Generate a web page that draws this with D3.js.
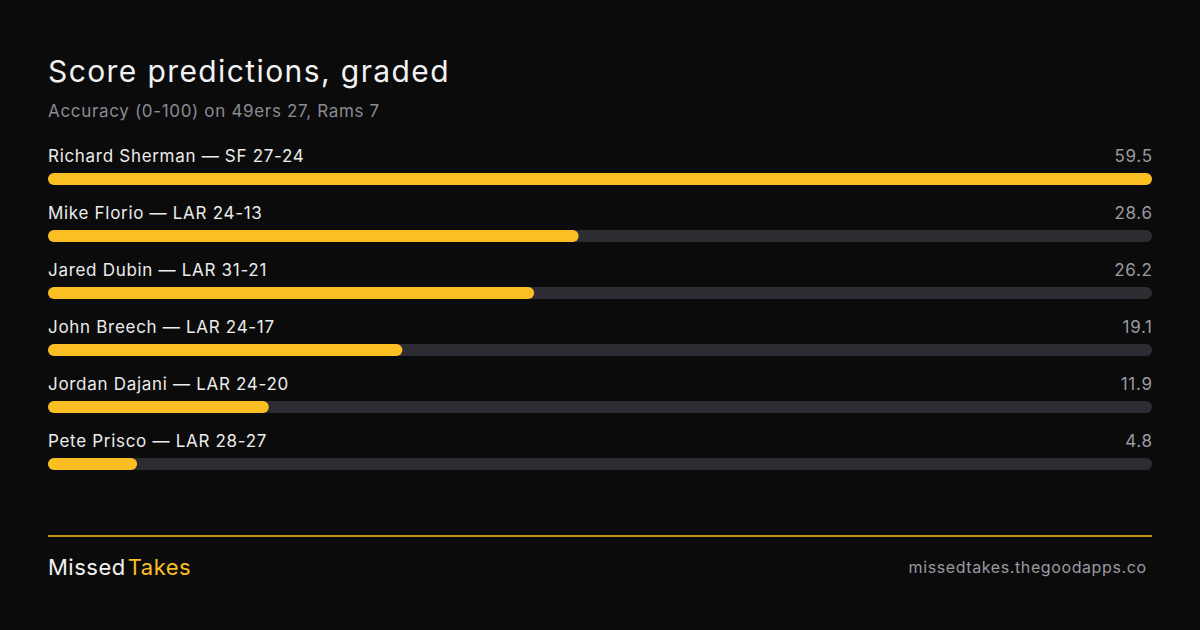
<!DOCTYPE html>
<html><head><meta charset="utf-8">
<script src="https://cdn.jsdelivr.net/npm/d3@7"></script>
<style>html,body{margin:0;padding:0;background:#0b0b0b;}svg{display:block;}</style>
</head><body>
<svg id="c" width="1200" height="630"></svg>
<script>
const names = ["Richard Sherman", "Mike Florio", "Jared Dubin", "John Breech", "Jordan Dajani", "Pete Prisco"];
const picks = ["SF 27-24", "LAR 24-13", "LAR 31-21", "LAR 24-17", "LAR 24-20", "LAR 28-27"];
const scores = [59.5, 28.6, 26.2, 19.1, 11.9, 4.8];
const scoreLabels = ["59.5", "28.6", "26.2", "19.1", "11.9", "4.8"];

const W = 1200, H = 630, L = 48, R = 1152;
const font = "Inter, 'Noto Sans', sans-serif";
const svg = d3.select("#c");
svg.append("rect").attr("width", W).attr("height", H).attr("fill", "#0b0b0b");

svg.append("text").attr("x", L).attr("y", 82).attr("font-family", font).attr("font-size", 30)
  .attr("letter-spacing", 1.4).attr("fill", "#f2f2f2").text("Score predictions, graded");
svg.append("text").attr("x", L).attr("y", 117).attr("font-family", font).attr("font-size", 17)
  .attr("letter-spacing", 0.67).attr("fill", "#8a8a92").text("Accuracy (0-100) on 49ers 27, Rams 7");

const x = d3.scaleLinear().domain([0, d3.max(scores)]).range([L, R]);
const y = d3.scaleBand().domain(d3.range(names.length)).range([145, 145 + 57 * names.length]);
const barH = 12;

const rows = svg.selectAll("g.row").data(names).join("g").attr("class", "row")
  .attr("transform", (d, i) => `translate(0,${y(i)})`);
rows.append("text").attr("x", L).attr("y", 17).attr("font-family", font).attr("font-size", 17)
  .attr("letter-spacing", 0.7).attr("fill", "#ececec").text((d, i) => `${d} — ${picks[i]}`);
rows.append("text").attr("x", R + 0.7).attr("y", 17).attr("text-anchor", "end").attr("font-family", font)
  .attr("letter-spacing", 0.7).attr("font-size", 17).attr("fill", "#9a9aa2").text((d, i) => scoreLabels[i]);
rows.append("rect").attr("x", L).attr("y", 28).attr("width", R - L).attr("height", barH)
  .attr("rx", barH / 2).attr("fill", "#2e2c33");
rows.append("rect").attr("x", L).attr("y", 28).attr("width", (d, i) => x(scores[i]) - L).attr("height", barH)
  .attr("rx", barH / 2).attr("fill", "#fbbf24");

svg.append("line").attr("x1", L).attr("x2", R).attr("y1", 536).attr("y2", 536)
  .attr("stroke", "#fbbf24").attr("stroke-width", 1.5);
const brand = svg.append("text").attr("x", L).attr("y", 575).attr("font-family", font).attr("font-size", 22)
  .attr("letter-spacing", 0.5);
brand.append("tspan").attr("fill", "#f2f2f2").text("Missed");
brand.append("tspan").attr("fill", "#fbbf24").attr("dx", 2).text("Takes");
svg.append("text").attr("x", 1146.6).attr("y", 573).attr("text-anchor", "end").attr("font-family", font)
  .attr("letter-spacing", 0.6).attr("font-size", 16).attr("fill", "#9a9aa2").text("missedtakes.thegoodapps.co");
</script>
</body></html>
